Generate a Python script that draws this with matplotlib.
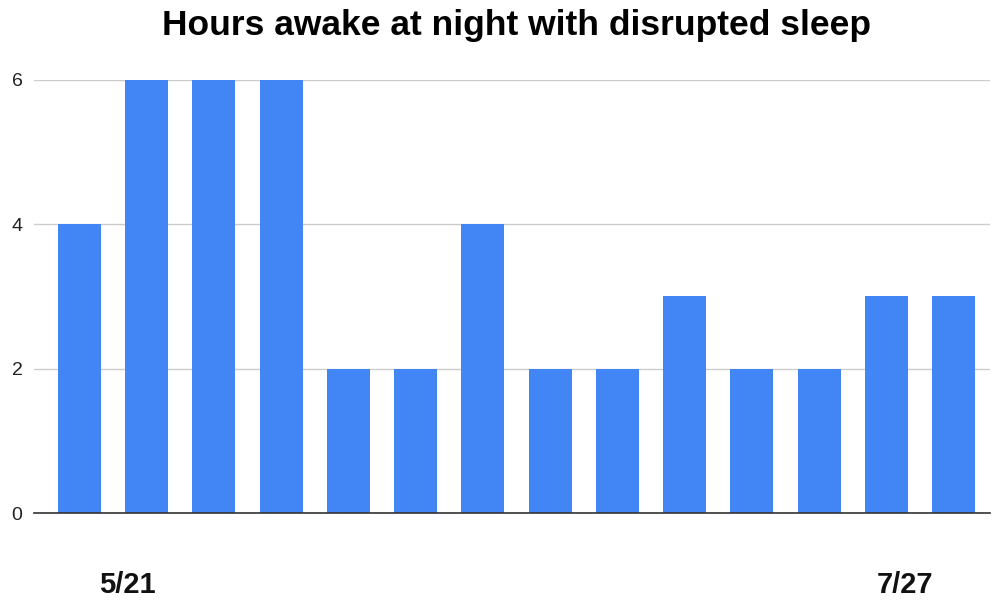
import matplotlib
matplotlib.use('Agg')
import matplotlib.pyplot as plt
import matplotlib.transforms as mtransforms
import numpy as np

# --- Data ---
hours = [4, 6, 6, 6, 2, 2, 4, 2, 2, 3, 2, 2, 3, 3]
label_positions = [1, 12]
label_texts = ["5/21", "7/27"]
yticks = [0, 2, 4, 6]

BAR_BLUE = "#4285F4"
GRID_GREY = "#cccccc"

plt.rcParams['font.family'] = ['Liberation Sans', 'DejaVu Sans']

fig = plt.figure(figsize=(9.92, 6.01), dpi=100)
ax = fig.add_axes([0.034, 0.1464, 0.964, 0.7206])

x = np.arange(len(hours))
ax.bar(x, hours, width=0.64, color=BAR_BLUE, zorder=3)

ax.set_xlim(-0.68, len(hours) - 1 + 0.54)
ax.set_ylim(0, 6)

# y axis: light horizontal grid, no spines
ax.set_yticks(yticks)
ax.set_yticklabels([str(v) for v in yticks], fontsize=14, color='#222222')
ax.yaxis.grid(True, color=GRID_GREY, linewidth=1, zorder=0)
ax.tick_params(axis='y', length=0, pad=8)

# x labels (only a few shown, bold)
ax.set_xticks(label_positions)
ax.set_xticklabels(label_texts, fontsize=21, fontweight='bold', color='#111111')
ax.tick_params(axis='x', length=0, pad=42)
# Sheets nudges the outer labels slightly outward
for lab, dx in zip(ax.get_xticklabels(), [-0.19, 0.19]):
    lab.set_transform(lab.get_transform() +
                      mtransforms.ScaledTranslation(dx, 0, fig.dpi_scale_trans))

for s in ['top', 'right', 'left']:
    ax.spines[s].set_visible(False)
ax.spines['bottom'].set_color('#333333')
ax.spines['bottom'].set_linewidth(1.2)
ax.spines['bottom'].set_zorder(4)

fig.text(0.521, 0.9418, "Hours awake at night with disrupted sleep",
         ha='center', va='baseline', fontsize=25.5, fontweight='bold', color='#000000')

fig.savefig("out.png", dpi=100)
